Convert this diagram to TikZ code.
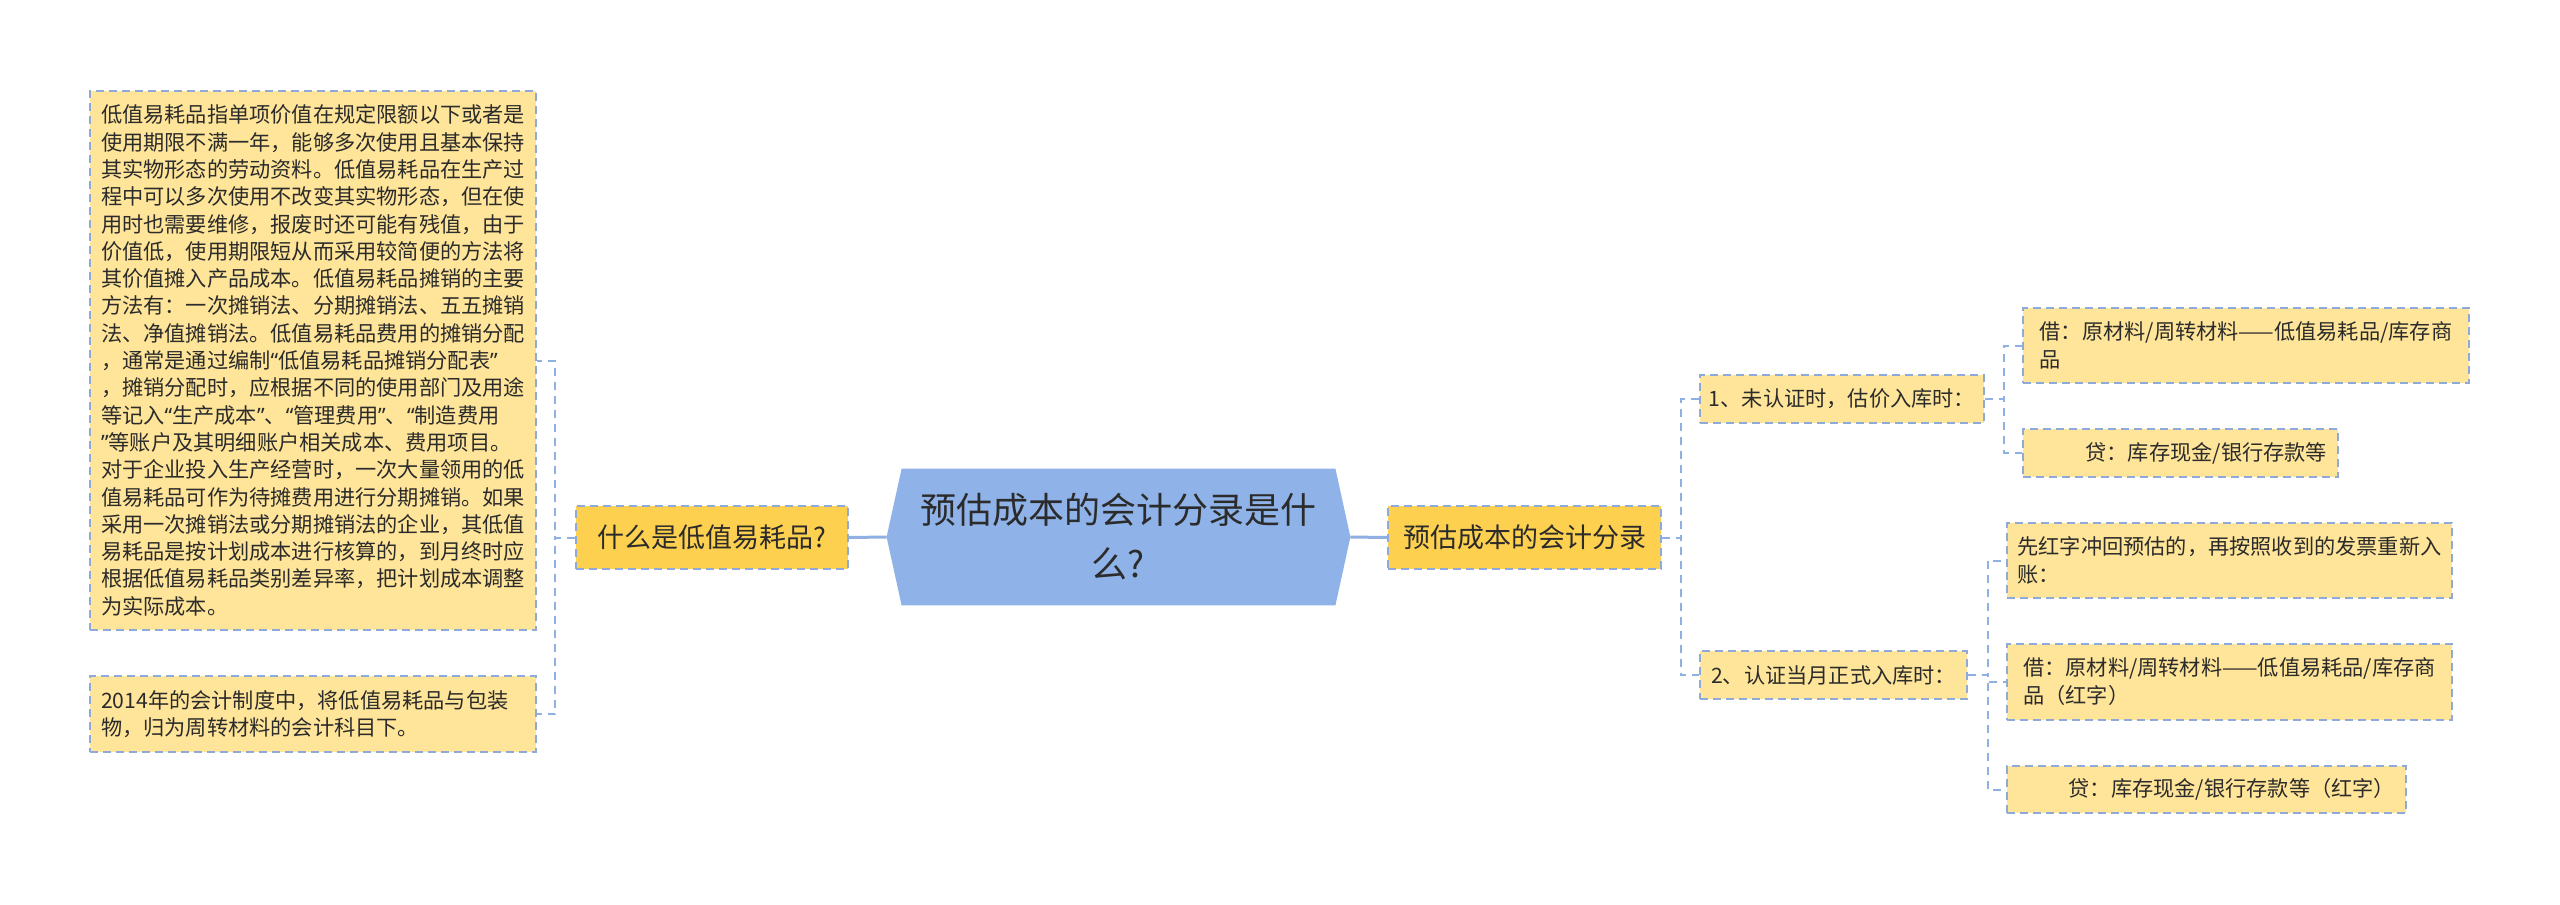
\documentclass[tikz,border=0pt]{standalone}
\usepackage{fontspec}
\newfontfamily\cjk{Noto Sans CJK SC}
\newfontfamily\lat{Noto Sans}
\newcommand{\qo}{{\lat “}}
\newcommand{\qc}{{\lat ”}}
\usetikzlibrary{backgrounds}
\definecolor{lightY}{HTML}{FFE599}
\definecolor{darkY}{HTML}{FDD14F}
\definecolor{rootB}{HTML}{8FB3E8}
\definecolor{borderB}{HTML}{8FA9D8}
\definecolor{lineB}{HTML}{8FB0E2}
\definecolor{txt}{HTML}{2B2B2B}
\tikzset{
  box/.style={draw=borderB, line width=0.9pt, dash pattern=on 4pt off 2.5pt, fill=lightY, text=txt, inner ysep=0pt, inner xsep=0pt, font=\cjk\fontsize{10.6}{13.65}\selectfont},
  rbox/.style={box, font=\cjk\fontsize{10.6}{14}\selectfont},
  mainbox/.style={box, fill=darkY, font=\cjk\fontsize{13.5}{16}\selectfont, inner sep=0pt, minimum height=31.5pt},
  rootnode/.style={inner sep=0pt, text=txt, align=center, font=\cjk\fontsize{18}{27}\selectfont, minimum width=231.5pt, minimum height=68pt},
  mainlink/.style={draw=lineB, line width=1.5pt},
  sublink/.style={draw=lineB, line width=1pt, dash pattern=on 4pt off 3pt},
}
\begin{document}
\begin{tikzpicture}[x=0.5pt,y=-0.5pt]
\useasboundingbox (0,0) rectangle (2560,905);
\node[rootnode] (root) at (1118.5,537) {预估成本的会计分录是什\\么?};
\begin{pgfonlayer}{background}
\fill[white] (0,0) rectangle (2560,905);
\fill[rootB] (root.west) -- ([xshift=7.5pt]root.north west) -- ([xshift=-7.5pt]root.north east) -- (root.east) -- ([xshift=-7.5pt]root.south east) -- ([xshift=7.5pt]root.south west) -- cycle;
\end{pgfonlayer}

\node[mainbox, minimum width=136pt] (q) at (712,537.5) {什么是低值易耗品?};
\node[mainbox, minimum width=136.5pt] (p) at (1524.5,537.5) {预估成本的会计分录};

\node[box, align=left, minimum width=223pt, minimum height=269.5pt] (big) at (313,360.5) {低值易耗品指单项价值在规定限额以下或者是\\使用期限不满一年，能够多次使用且基本保持\\其实物形态的劳动资料。低值易耗品在生产过\\程中可以多次使用不改变其实物形态，但在使\\用时也需要维修，报废时还可能有残值，由于\\价值低，使用期限短从而采用较简便的方法将\\其价值摊入产品成本。低值易耗品摊销的主要\\方法有：一次摊销法、分期摊销法、五五摊销\\法、净值摊销法。低值易耗品费用的摊销分配\\，通常是通过编制\qo 低值易耗品摊销分配表\qc\\，摊销分配时，应根据不同的使用部门及用途\\等记入\qo 生产成本\qc 、\qo 管理费用\qc 、\qo 制造费用\\\qc 等账户及其明细账户相关成本、费用项目。\\对于企业投入生产经营时，一次大量领用的低\\值易耗品可作为待摊费用进行分期摊销。如果\\采用一次摊销法或分期摊销法的企业，其低值\\易耗品是按计划成本进行核算的，到月终时应\\根据低值易耗品类别差异率，把计划成本调整\\为实际成本。};
\node[box, text width=212pt, inner xsep=5.5pt, align=left, minimum height=38pt] (small) at (313,714) {2014年的会计制度中，将低值易耗品与包装\\物，归为周转材料的会计科目下。};

\node[rbox, minimum width=142pt, minimum height=24pt] (n1) at (1842,399) {1、未认证时，估价入库时：};
\node[rbox, minimum width=133.5pt, minimum height=24pt] (n2) at (1833.5,675) {2、认证当月正式入库时：};

\node[rbox, align=left, minimum width=223pt, minimum height=37.5pt] (c1) at (2246,345.5) {借：原材料/周转材料——低值易耗品/库存商\\品};
\node[rbox, text width=146.5pt, inner xsep=5.5pt, align=right, minimum height=24pt] (c2) at (2180.5,453) {贷：库存现金/银行存款等};

\node[rbox, align=left, minimum width=222.5pt, minimum height=37.5pt] (d1) at (2229.5,560.5) {先红字冲回预估的，再按照收到的发票重新入\\账：};
\node[rbox, align=left, minimum width=222.5pt, minimum height=38pt] (d2) at (2229.5,682) {借：原材料/周转材料——低值易耗品/库存商\\品（红字）};
\node[rbox, text width=188.5pt, inner xsep=5.5pt, align=right, minimum height=23.5pt] (d3) at (2206.5,789.5) {贷：库存现金/银行存款等（红字）};

\draw[mainlink] (q.east) -- (root.west);
\draw[mainlink] (root.east) -- (p.west);
\draw[sublink] (q.west) -- ++(-20,0) |- (big.east);
\draw[sublink] (q.west) -- ++(-20,0) |- (small.east);
\draw[sublink] (p.east) -- ++(19,0) |- (n1.west);
\draw[sublink] (p.east) -- ++(19,0) |- (n2.west);
\draw[sublink] (n1.east) -- ++(19,0) |- (c1.west);
\draw[sublink] (n1.east) -- ++(19,0) |- (c2.west);
\draw[sublink] (n2.east) -- ++(20,0) |- (d1.west);
\draw[sublink] (n2.east) -- ++(20,0) |- (d2.west);
\draw[sublink] (n2.east) -- ++(20,0) |- (d3.west);
\end{tikzpicture}
\end{document}
